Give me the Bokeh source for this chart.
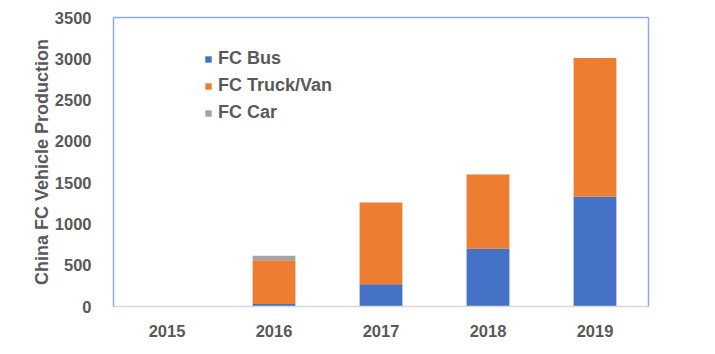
from bokeh.plotting import figure
from bokeh.models import (FactorRange, Range1d, LinearAxis, Legend)
from bokeh.embed import file_html
from bokeh.resources import INLINE

years = ["2015", "2016", "2017", "2018", "2019"]
fc_bus = [0, 30, 270, 700, 1330]
fc_truck = [0, 530, 990, 900, 1680]
fc_car = [0, 55, 0, 0, 0]
y_ticks = [0, 500, 1000, 1500, 2000, 2500, 3000, 3500]

series = ["FC Bus", "FC Truck/Van", "FC Car"]
colors = ["#4472C4", "#ED7D31", "#A5A5A5"]
TEXT = "#595959"
FONT = "Liberation Sans"

data = {"years": years, "FC Bus": fc_bus, "FC Truck/Van": fc_truck, "FC Car": fc_car}

p = figure(width=715, height=354, x_range=FactorRange(*years), y_range=Range1d(0, 3500),
           output_backend="svg", toolbar_location=None,
           min_border_left=113, min_border_right=67, min_border_top=17, min_border_bottom=48)
p.outline_line_color = None
p.xgrid.grid_line_color = None
p.ygrid.grid_line_color = None
p.x_range.range_padding = 0
p.x_range.group_padding = 0
p.x_range.factor_padding = 0

rs = p.vbar_stack(series, x="years", width=0.4, color=colors, source=data, line_color=None)

# axes styling
xa = p.xaxis[0]
xa.axis_line_color = "#D9D9D9"
xa.axis_line_width = 1.5
xa.major_tick_line_color = None
xa.minor_tick_line_color = None
xa.major_label_text_font = FONT
xa.major_label_text_font_style = "bold"
xa.major_label_text_font_size = "16.5px"
xa.major_label_text_color = TEXT
xa.major_label_standoff = 12

ya = p.yaxis[0]
ya.ticker = y_ticks
ya.axis_line_color = "#8FAADC"
ya.axis_line_width = 1.5
ya.major_tick_line_color = None
ya.minor_tick_line_color = None
ya.major_label_text_font = FONT
ya.major_label_text_font_style = "bold"
ya.major_label_text_font_size = "16.5px"
ya.major_label_text_color = TEXT
ya.major_label_standoff = 16
ya.axis_label = "China FC Vehicle Production"
ya.axis_label_text_font = FONT
ya.axis_label_text_font_style = "bold"
ya.axis_label_text_font_size = "18px"
ya.axis_label_text_color = TEXT
ya.axis_label_standoff = 0

for loc in ("above", "right"):
    ax = LinearAxis(axis_line_color="#8FAADC", axis_line_width=1.5,
                    major_tick_line_color=None, minor_tick_line_color=None,
                    major_label_text_font_size="0px", major_label_text_color=None)
    ax.ticker = []
    p.add_layout(ax, loc)

legend = Legend(items=[(s, [r]) for s, r in zip(series, rs)], location=(91, 183),
                glyph_width=8, glyph_height=8, label_height=20, spacing=6,
                label_standoff=6, padding=0, margin=0, border_line_color=None,
                background_fill_alpha=0,
                label_text_font=FONT, label_text_font_style="bold",
                label_text_font_size="18px", label_text_color=TEXT)
p.add_layout(legend)

open("out.html", "w").write(file_html(p, INLINE))
